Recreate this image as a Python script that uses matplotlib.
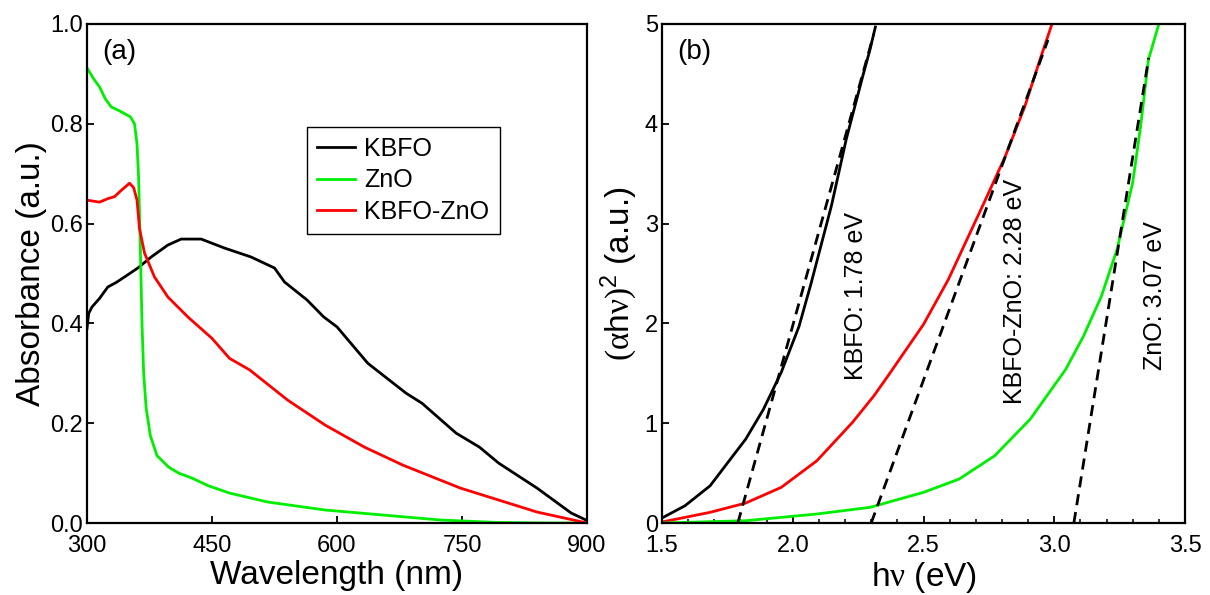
import matplotlib
matplotlib.use("Agg")
import matplotlib.pyplot as plt
from matplotlib.ticker import MultipleLocator

plt.rcParams['font.family'] = ['Liberation Sans', 'DejaVu Sans']
plt.rcParams['mathtext.fontset'] = 'custom'
plt.rcParams['mathtext.rm'] = 'Liberation Serif'
plt.rcParams['mathtext.sf'] = 'Liberation Sans'
plt.rcParams['mathtext.it'] = 'Liberation Sans:italic'

# (a) absorbance spectra
kbfo_wl = [300, 302, 306, 315, 325, 335, 345, 361, 377, 397, 413, 437, 465, 497, 525,
           537, 564, 584, 600, 637, 683, 702, 743, 771, 794, 840, 881, 900]
kbfo_abs = [0.39, 0.42, 0.433, 0.45, 0.473, 0.482, 0.493, 0.511, 0.533, 0.557, 0.569, 0.569,
            0.551, 0.533, 0.511, 0.483, 0.447, 0.413, 0.393, 0.32, 0.26, 0.24, 0.18, 0.152,
            0.12, 0.07, 0.02, 0.005]

zno_wl = [300, 308, 315, 322, 329, 340, 352, 357, 360, 362, 364, 366, 368, 371, 376, 384,
          398, 410, 426, 445, 471, 517, 586, 655, 724, 794, 850, 900]
zno_abs = [0.912, 0.89, 0.874, 0.85, 0.834, 0.825, 0.814, 0.80, 0.76, 0.69, 0.55, 0.40,
           0.30, 0.23, 0.175, 0.135, 0.112, 0.10, 0.09, 0.075, 0.06, 0.042, 0.026, 0.016,
           0.006, 0.001, 0.0, 0.0]

comp_wl = [300, 315, 325, 333, 340, 347, 351, 356, 360, 363, 369, 381, 397, 421, 450,
           471, 495, 541, 586, 633, 679, 748, 794, 840, 900]
comp_abs = [0.647, 0.643, 0.65, 0.654, 0.665, 0.675, 0.681, 0.672, 0.647, 0.59, 0.541, 0.493,
            0.453, 0.413, 0.37, 0.33, 0.307, 0.246, 0.196, 0.152, 0.116, 0.07, 0.046,
            0.022, 0.0]

# (b) Tauc plots
kbfo_e = [1.5, 1.588, 1.684, 1.75, 1.82, 1.888, 1.956, 2.024, 2.07, 2.148, 2.205, 2.267,
          2.295, 2.316]
kbfo_t = [0.05, 0.173, 0.373, 0.6, 0.84, 1.14, 1.51, 1.97, 2.40, 3.18, 3.85, 4.47, 4.74, 4.97]

comp_e = [1.5, 1.684, 1.82, 1.956, 2.092, 2.228, 2.31, 2.364, 2.5, 2.595, 2.666, 2.737,
          2.812, 2.887, 2.945, 2.99]
comp_t = [0.01, 0.107, 0.2, 0.357, 0.623, 1.007, 1.273, 1.473, 1.99, 2.44, 2.84, 3.24,
          3.67, 4.17, 4.64, 4.99]

zno_e = [1.5, 1.82, 2.092, 2.296, 2.5, 2.636, 2.772, 2.908, 3.044, 3.112, 3.18, 3.24, 3.30,
         3.33, 3.36, 3.40]
zno_t = [0.0, 0.023, 0.09, 0.157, 0.307, 0.44, 0.673, 1.04, 1.54, 1.873, 2.27, 2.74, 3.41,
         3.97, 4.64, 5.0]

# linear fits: intercept on the energy axis and upper end of the line
fit_eg = [1.79, 2.30, 3.075]
fit_top_e = [2.31, 2.976, 3.361]
fit_top_t = [4.9, 4.84, 4.66]

gap_labels = ["KBFO: 1.78 eV", "KBFO-ZnO: 2.28 eV", "ZnO: 3.07 eV"]
gap_label_e = [2.24, 2.85, 3.384]
gap_label_t = [2.27, 2.32, 2.28]

green = '#00ee00'
red = '#ff0000'

fig = plt.figure(figsize=(12.1, 5.95), dpi=100)
ax1 = fig.add_axes([87 / 1210, 72 / 595, 500 / 1210, 499 / 595])
ax2 = fig.add_axes([662 / 1210, 72 / 595, 523 / 1210, 499 / 595])

lw = 2.0
ax1.plot(kbfo_wl, kbfo_abs, color='k', lw=lw, label='KBFO')
ax1.plot(zno_wl, zno_abs, color=green, lw=lw, label='ZnO')
ax1.plot(comp_wl, comp_abs, color=red, lw=lw, label='KBFO-ZnO')
ax1.set_xlim(300, 900)
ax1.set_ylim(0, 1.0)
ax1.set_xticks([300, 450, 600, 750, 900])
ax1.set_yticks([0.0, 0.2, 0.4, 0.6, 0.8, 1.0])
ax1.set_xlabel('Wavelength (nm)', fontsize=24, labelpad=2)
ax1.set_ylabel('Absorbance (a.u.)', fontsize=24, labelpad=2)
ax1.text(0.03, 0.97, '(a)', transform=ax1.transAxes, fontsize=20, va='top', ha='left')
leg = ax1.legend(loc='upper left', bbox_to_anchor=(0.44, 0.794), fontsize=18,
                 frameon=True, fancybox=False, edgecolor='k', framealpha=1,
                 handlelength=1.5, handletextpad=0.4, borderpad=0.4, labelspacing=0.3,
                 borderaxespad=0)
leg.get_frame().set_linewidth(1.0)

ax2.plot(kbfo_e, kbfo_t, color='k', lw=lw)
ax2.plot(comp_e, comp_t, color=red, lw=lw)
ax2.plot(zno_e, zno_t, color=green, lw=lw)
for eg, te, tt in zip(fit_eg, fit_top_e, fit_top_t):
    ax2.plot([eg, te], [0, tt], color='k', lw=2.0, ls=(0, (4, 2.5)))
for lab, xe, yt in zip(gap_labels, gap_label_e, gap_label_t):
    ax2.text(xe, yt, lab, rotation=90, ha='center', va='center', fontsize=18)
ax2.set_xlim(1.5, 3.5)
ax2.set_ylim(0, 5)
ax2.set_xticks([1.5, 2.0, 2.5, 3.0, 3.5])
ax2.xaxis.set_minor_locator(MultipleLocator(0.1))
ax2.set_yticks([0, 1, 2, 3, 4, 5])
ax2.set_xlabel(r'h$\mathrm{\nu}$ (eV)', fontsize=24, labelpad=2)
ax2.set_ylabel(r'$(\mathrm{\alpha}\mathsf{h}\mathrm{\nu})^{\mathsf{2}}$ (a.u.)', fontsize=24, labelpad=4)
ax2.text(0.03, 0.97, '(b)', transform=ax2.transAxes, fontsize=20, va='top', ha='left')

for ax in (ax1, ax2):
    for s in ax.spines.values():
        s.set_linewidth(1.6)
    ax.tick_params(which='major', direction='in', length=5, width=1.3, labelsize=17)
    ax.tick_params(which='minor', direction='in', length=3, width=1.1)
    ax.tick_params(axis='x', pad=9)
    ax.tick_params(axis='y', pad=3)

fig.savefig('out.png', dpi=100)
